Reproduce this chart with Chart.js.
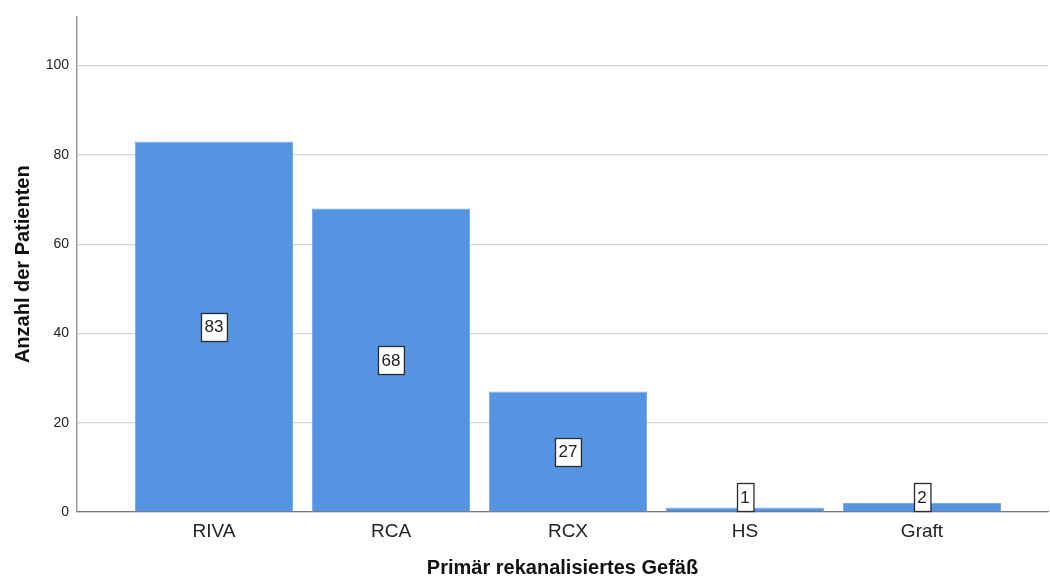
<!DOCTYPE html>
<html>
<head>
<meta charset="utf-8">
<script src="https://cdn.jsdelivr.net/npm/chart.js@4"></script>
<style>
  html, body { margin: 0; padding: 0; background: #fff; }
  #wrap { width: 1050px; height: 579px; }
</style>
</head>
<body>
<div id="wrap"><canvas id="chart" width="1050" height="579"></canvas></div>
<script>
// categories and counts
const categories = ['RIVA', 'RCA', 'RCX', 'HS', 'Graft'];
const counts = [83, 68, 27, 1, 2];
const yTicks = [0, 20, 40, 60, 80, 100];

const FONT = "'Liberation Sans', Arial, sans-serif";

// boxed value label placed at half the bar height, never below the axis
const boxLabels = {
  id: 'boxLabels',
  afterDatasetsDraw(chart) {
    const ctx = chart.ctx;
    const yScale = chart.scales.y;
    const meta = chart.getDatasetMeta(0);
    const base = yScale.getPixelForValue(0);
    ctx.save();
    ctx.font = '17px ' + FONT;
    ctx.textAlign = 'center';
    ctx.textBaseline = 'middle';
    meta.data.forEach((bar, i) => {
      const txt = String(counts[i]);
      const w = ctx.measureText(txt).width + 7;
      const h = 28;
      let cy = yScale.getPixelForValue(counts[i] / 2);
      if (cy > base - h / 2 - 1) cy = base - h / 2 - 1;
      const x0 = Math.round(bar.x - w / 2) + 0.5;
      const y0 = Math.round(cy - h / 2) + 0.5;
      ctx.fillStyle = '#ffffff';
      ctx.fillRect(x0, y0, w, h);
      ctx.strokeStyle = '#2b2b2b';
      ctx.lineWidth = 1.3;
      ctx.strokeRect(x0, y0, w, h);
      ctx.fillStyle = '#222';
      ctx.fillText(txt, bar.x, cy + 1);
    });
    ctx.restore();
  }
};

new Chart(document.getElementById('chart'), {
  type: 'bar',
  data: {
    datasets: [{
      data: counts.map((c, i) => ({ x: i, y: c })),
      backgroundColor: '#5594e3',
      borderColor: '#7aaceb',
      borderWidth: 1,
      barPercentage: 0.893,
      categoryPercentage: 1
    }]
  },
  options: {
    responsive: false,
    animation: false,
    layout: { padding: { top: 15, right: 2, left: 0, bottom: 0 } },
    plugins: { legend: { display: false }, tooltip: { enabled: false } },
    scales: {
      x: {
        type: 'linear',
        offset: false,
        min: -0.774,
        max: 4.712,
        afterFit(s) { s.height = 67; },
        afterBuildTicks(s) { s.ticks = categories.map((c, i) => ({ value: i })); },
        ticks: {
          autoSkip: false,
          maxRotation: 0,
          padding: 8,
          color: '#222',
          font: { size: 19, family: FONT },
          callback: v => categories[v] || ''
        },
        grid: { display: false, drawTicks: false, offset: false },
        border: { display: true, color: '#777', width: 1.3 },
        title: {
          display: true,
          text: 'Primär rekanalisiertes Gefäß',
          color: '#111',
          font: { size: 20, weight: 'bold', family: FONT },
          padding: { top: 0, bottom: -1 }
        }
      },
      y: {
        min: 0,
        max: 111,
        afterFit(s) { s.width = 77; },
        afterBuildTicks(s) { s.ticks = yTicks.map(v => ({ value: v })); },
        ticks: {
          padding: 8,
          color: '#222',
          font: { size: 14, family: FONT }
        },
        grid: { color: '#d4d4d4', lineWidth: 1.2, drawTicks: false },
        border: { display: true, color: '#999', width: 1.5 },
        title: {
          display: true,
          text: 'Anzahl der Patienten',
          color: '#111',
          font: { size: 20, weight: 'bold', family: FONT },
          padding: { top: 11, bottom: 0 }
        }
      }
    }
  },
  plugins: [boxLabels]
});
</script>
</body>
</html>
